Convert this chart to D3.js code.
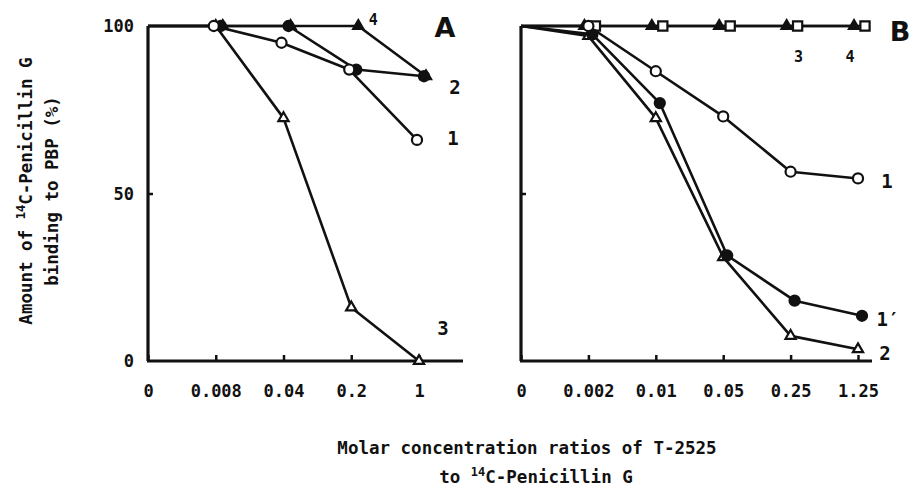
<!DOCTYPE html>
<html>
<head>
<meta charset="utf-8">
<script src="https://cdn.jsdelivr.net/npm/d3@7"></script>
<style>
  body { margin: 0; background: #fff; }
  text { font-family: "DejaVu Sans Mono", monospace; font-weight: bold; fill: #111; }
</style>
</head>
<body>
<div id="chart"></div>
<script>
// ---- data ----
// panel A : x categories (ordinal, evenly spaced)
var catsA = ["0", "0.008", "0.04", "0.2", "1"];
var a1 = [100, 100, 95, 87, 66];     // open circles   (1)
var a2 = [100, 100, 100, 87, 85];    // filled circles (2)
var a3 = [100, 100, 72.5, 16, 0];    // open triangles (3)
var a4 = [100, 100, 100, 100, 85];   // filled triangles (4)

// panel B
var catsB = ["0", "0.002", "0.01", "0.05", "0.25", "1.25"];
var b1  = [100, 100, 86.5, 73, 56.5, 54.5];   // open circles   (1)
var b1p = [100, 97.5, 77, 31.5, 18, 13.5];    // filled circles (1')
var b2  = [100, 97, 72.5, 31, 7.5, 3.5];      // open triangles (2)
var b3  = [100, 100, 100, 100, 100, 100];     // filled triangles (3)
var b4  = [100, 100, 100, 100, 100, 100];     // open squares (4)

var yTicks = [0, 50, 100];

var width = 912, height = 494;

var svg = d3.select("#chart")
  .append("svg")
    .attr("width", width)
    .attr("height", height);

var y = d3.scaleLinear()
    .domain([0, 100])
    .range([361, 26]);

var xA = d3.scalePoint().domain(catsA).range([148, 419]);
var xB = d3.scalePoint().domain(catsB).range([521, 858]);

// draw one panel : axes + series
function draw_panel(x, cats, series, axisRight, showYLabels){
    var g = svg.append("g");

    // x axis ticks + labels (domain drawn by hand, it runs past the last tick)
    var xa = g.append("g")
        .attr("transform", "translate(0," + y(0) + ")")
        .call(d3.axisBottom(x).tickSizeInner(-6).tickSizeOuter(0).tickPadding(24));
    xa.select(".domain").remove();
    xa.selectAll("line").attr("stroke", "#111").attr("stroke-width", 2.5);
    xa.selectAll("text").attr("font-size", "17px").attr("fill", "#111")
      .style("font-family", "DejaVu Sans Mono").style("font-weight", "bold");

    // y axis
    var ya = g.append("g")
        .attr("transform", "translate(" + x(cats[0]) + ",0)")
        .call(d3.axisLeft(y).tickValues([50]).tickSizeInner(-5).tickSizeOuter(0)
              .tickFormat(showYLabels ? d3.format("d") : ""));
    ya.select(".domain").remove();
    ya.selectAll("line").attr("stroke", "#111").attr("stroke-width", 2.5);

    if (showYLabels) {
        g.selectAll(".ylab")
          .data(yTicks)
          .enter().append("text")
            .attr("class", "ylab")
            .attr("x", x(cats[0]) - 14)
            .attr("y", function(d){ return y(d) + 6; })
            .attr("text-anchor", "end")
            .attr("font-size", "17px")
            .text(function(d){ return d; });
        ya.selectAll("text").remove();
    }

    // axis lines
    g.append("line")
        .attr("x1", x(cats[0]) - 1).attr("x2", axisRight)
        .attr("y1", y(0)).attr("y2", y(0))
        .attr("stroke", "#111").attr("stroke-width", 3.2);
    g.append("line")
        .attr("x1", x(cats[0])).attr("x2", x(cats[0]))
        .attr("y1", y(0)).attr("y2", y(100))
        .attr("stroke", "#111").attr("stroke-width", 3.2);

    var line = d3.line()
        .x(function(d){ return d.x; })
        .y(function(d){ return d.y; });

    // lines
    series.forEach(function(s){
        var pts = s.values.map(function(v, i){
            return { x: x(cats[i]) + (i > 0 ? s.dx : 0), y: y(v) };
        });
        s.pts = pts;
        g.append("path")
          .attr("d", line(pts))
          .attr("fill", "none")
          .attr("stroke", "#111")
          .attr("stroke-width", 2.6)
          .attr("stroke-linejoin", "round");
    });

    // markers (skip the origin point)
    series.forEach(function(s){
        var shape = s.marker == "circle" ? d3.symbolCircle
                  : s.marker == "triangle" ? d3.symbolTriangle : d3.symbolSquare;
        var size = s.marker == "circle" ? 80 : s.marker == "triangle" ? 45 : 85;
        g.selectAll(null)
          .data(s.pts.slice(1))
          .enter().append("path")
            .attr("d", d3.symbol().type(shape).size(size))
            .attr("transform", function(d){ return "translate(" + d.x + "," + d.y + ")"; })
            .attr("fill", s.filled ? "#111" : "#fff")
            .attr("stroke", "#111")
            .attr("stroke-width", 2.2);
    });
    return g;
}

var gA = draw_panel(xA, catsA, [
    { values: a3, marker: "triangle", filled: false, dx: 0 },
    { values: a4, marker: "triangle", filled: true,  dx: 7 },
    { values: a2, marker: "circle",   filled: true,  dx: 5 },
    { values: a1, marker: "circle",   filled: false, dx: -2 }
], 463, true);

var gB = draw_panel(xB, catsB, [
    { values: b3,  marker: "triangle", filled: true,  dx: -4 },
    { values: b4,  marker: "square",   filled: false, dx: 7 },
    { values: b2,  marker: "triangle", filled: false, dx: 0 },
    { values: b1p, marker: "circle",   filled: true,  dx: 4 },
    { values: b1,  marker: "circle",   filled: false, dx: 0 }
], 872, false);

// curve labels
function label(g, txt, xp, yp, size){
    g.append("text")
      .attr("x", xp).attr("y", yp)
      .attr("text-anchor", "middle")
      .attr("font-size", size)
      .text(txt);
}
label(gA, "4", xA("0.2") + 22, 25, "15px");
label(gA, "2", xA("1") + 36, 94, "19px");
label(gA, "1", xA("1") + 34, 145, "19px");
label(gA, "3", xA("1") + 24, 335, "19px");
label(gB, "3", xB("0.25") + 8, 62, "15px");
label(gB, "4", xB("1.25") - 8, 62, "15px");
label(gB, "1", xB("1.25") + 29, 188, "19px");
label(gB, "1\u2032", xB("1.25") + 30, 326, "19px");
label(gB, "2", xB("1.25") + 27, 360, "19px");

// panel letters
svg.append("text").attr("x", 445).attr("y", 37).attr("text-anchor", "middle")
   .attr("font-size", "27px").style("font-family", "DejaVu Sans").text("A");
svg.append("text").attr("x", 900).attr("y", 41).attr("text-anchor", "middle")
   .attr("font-size", "27px").style("font-family", "DejaVu Sans").text("B");

// y axis title, two rotated lines
var yt = svg.append("text")
    .attr("transform", "translate(32,191) rotate(-90)")
    .attr("text-anchor", "middle")
    .attr("font-size", "17.5px");
yt.append("tspan").text("Amount of ");
yt.append("tspan").attr("font-size", "12px").attr("dy", -7).text("14");
yt.append("tspan").attr("dy", 7).text("C-Penicillin G");

svg.append("text")
    .attr("transform", "translate(58,191) rotate(-90)")
    .attr("text-anchor", "middle")
    .attr("font-size", "17.5px")
    .text("binding to PBP (%)");

// x axis title
svg.append("text")
    .attr("x", 527).attr("y", 454)
    .attr("text-anchor", "middle")
    .attr("font-size", "17.5px")
    .text("Molar concentration ratios of T-2525");

var xt = svg.append("text")
    .attr("x", 536).attr("y", 483)
    .attr("text-anchor", "middle")
    .attr("font-size", "17.5px");
xt.append("tspan").text("to ");
xt.append("tspan").attr("font-size", "12px").attr("dy", -7).text("14");
xt.append("tspan").attr("dy", 7).text("C-Penicillin G");
</script>
</body>
</html>
